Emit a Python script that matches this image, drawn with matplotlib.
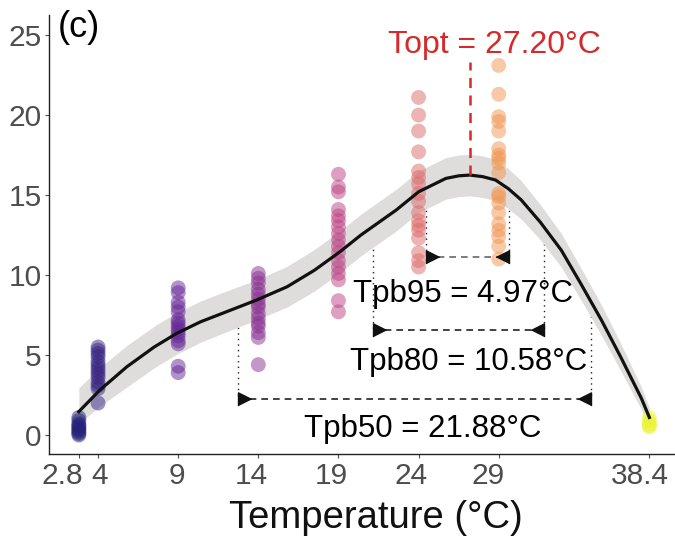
import numpy as np
import matplotlib
matplotlib.use("Agg")
import matplotlib.pyplot as plt
from matplotlib import colors
from matplotlib.transforms import ScaledTranslation

plt.rcParams['font.family'] = ['Liberation Sans', 'DejaVu Sans']

# observed points, one list per temperature
temps = [2.8, 4, 9, 14, 19, 24, 29, 38.4]
temp_labels = ['2.8', '4', '9', '14', '19', '24', '29', '38.4']
rates = [
    [1.1, 0.9, 0.7, 0.5, 0.3, 0.1, 0.0, 0.4, 0.6, 0.2],
    [5.5, 5.3, 5.1, 4.9, 4.6, 4.4, 4.2, 4.0, 3.8, 3.6, 3.3, 3.1, 2.9, 2.0],
    [9.2, 8.9, 8.3, 8.0, 7.7, 7.2, 7.0, 6.8, 6.6, 6.4, 6.2, 5.9, 5.7, 4.3, 3.9],
    [10.1, 9.8, 9.5, 9.1, 8.8, 8.5, 8.2, 8.0, 7.6, 7.3, 7.0, 6.8, 6.4, 6.1, 4.4],
    [16.3, 15.5, 15.2, 14.1, 13.7, 13.4, 13.0, 12.6, 12.2, 11.8, 11.4, 10.9,
     10.5, 10.1, 9.7, 8.4, 7.7],
    [21.1, 20.0, 19.0, 17.7, 16.5, 16.1, 15.7, 15.1, 14.6, 13.9, 13.4, 13.1,
     12.8, 12.3, 11.4, 10.9, 10.5],
    [23.1, 21.3, 19.9, 19.6, 19.0, 17.9, 17.5, 17.3, 17.0, 16.4, 15.1, 14.9,
     14.5, 13.9, 13.2, 12.8, 12.4, 11.8, 11.0],
    [1.1, 0.9, 0.7, 0.6, 0.5],
]

# fitted curve and its confidence band
fit_t = [2.8, 4.1, 5.8, 7.5, 8.9, 10.4, 12.0, 13.9, 15.8, 17.5, 19.1, 20.4,
         22.6, 24.0, 25.7, 26.5, 27.2, 28.0, 28.8, 29.6, 30.4, 31.6, 32.9,
         34.1, 35.4, 36.6, 37.9, 38.4]
fit_y = [1.46, 2.8, 4.27, 5.5, 6.35, 7.08, 7.7, 8.44, 9.27, 10.3, 11.46, 12.5,
         14.06, 15.2, 16.04, 16.2, 16.25, 16.15, 15.94, 15.4, 14.7, 13.3, 11.56,
         9.5, 7.2, 4.9, 2.3, 1.1]
fit_lo = [0.7, 1.8, 3.0, 4.2, 5.05, 5.8, 6.45, 7.2, 8.0, 9.0, 10.15, 11.2,
          12.75, 13.9, 14.74, 14.9, 14.95, 14.85, 14.64, 14.15, 13.5, 12.2, 10.5,
          8.5, 6.25, 4.05, 1.6, 0.5]
fit_hi = [2.95, 4.2, 5.6, 6.8, 7.65, 8.38, 9.0, 9.7, 10.55, 11.6, 12.76, 13.8,
          15.36, 16.5, 17.34, 17.5, 17.55, 17.45, 17.24, 16.65, 15.9, 14.4, 12.6,
          10.5, 8.15, 5.75, 3.0, 1.7]

t_opt = 27.2
r_max = 16.25
# breadth intervals
tpb_names = ['Tpb95 = 4.97°C', 'Tpb80 = 10.58°C', 'Tpb50 = 21.88°C']
tpb_left = [24.48, 21.17, 12.73]
tpb_right = [29.64, 31.83, 34.75]
tpb_frac = [0.95, 0.80, 0.50]
tpb_y = [11.15, 6.56, 2.27]
tpb_text_x = [26.8, 27.1, 24.25]
tpb_text_y = [8.33, 4.06, -0.1]
dash_col = ['#666666', '#222222', '#222222']

# shift of each x tick label in pixels (as in the original layout)
lab_shift = [-17, 2, -1, -7, -7, -8, -11, -9]

fig = plt.figure(figsize=(6.75, 5.38), dpi=100)
ax = fig.add_axes([0.073, 0.156, 0.927, 0.816])

norm = colors.Normalize(vmin=2.8, vmax=38.4)
cmap = matplotlib.colormaps['plasma']


# the printed figure has slightly muted colours, mostly in the dark blues
def muted(c):
    h, s, v = colors.rgb_to_hsv(np.array(c[:3]))
    k = 0.75 if v < 0.7 else 0.92
    return colors.hsv_to_rgb([h, s * k, v * (0.9 if v < 0.7 else 0.98)])


# dotted drop lines (behind the band)
for lft, rgt, fr, yy in zip(tpb_left, tpb_right, tpb_frac, tpb_y):
    for xx in (lft, rgt):
        ax.plot([xx, xx], [r_max * fr, yy], ls=(0, (1, 3)), color='#222222',
                lw=1.0, zorder=1)

ax.fill_between(fit_t, fit_lo, fit_hi, color='#DFDDDC', lw=0, zorder=2)

for t, vals in zip(temps, rates):
    ax.scatter([t] * len(vals), vals, s=115, color=muted(cmap(norm(t))),
               alpha=0.5, edgecolors='none', zorder=3)

ax.plot(fit_t, fit_y, color='#111111', lw=2.3, zorder=4)

# Topt marker
ax.plot([t_opt, t_opt], [r_max, 23.3], ls=(0, (4, 3)), color='#D42A2A', lw=1.8,
        zorder=5)
ax.text(28.75, 23.86, 'Topt = 27.20°C', color='#D42A2A', fontsize=23,
        ha='center', va='baseline', zorder=6)

tri_r = [(0, -1), (0, 1), (2, 0)]
tri_l = [(0, -1), (0, 1), (-2, 0)]
for name, lft, rgt, yy, tx, ty, dc in zip(tpb_names, tpb_left, tpb_right, tpb_y,
                                          tpb_text_x, tpb_text_y, dash_col):
    ax.plot([lft, rgt], [yy, yy], ls=(0, (4, 3)), color=dc, lw=1.2, zorder=5)
    ax.plot([lft], [yy], marker=tri_r, ms=19, color='#111111', zorder=6)
    ax.plot([rgt], [yy], marker=tri_l, ms=19, color='#111111', zorder=6)
    ax.text(tx, ty, name, fontsize=22.5, ha='center', va='baseline', zorder=6)

ax.text(1.5, 24.85, '(c)', fontsize=26, ha='left', va='baseline')

ax.set_xlim(0.956, 40.0)
ax.set_ylim(-1.19, 26.25)
ax.set_xticks(temps)
ax.set_xticklabels(temp_labels)
ax.set_yticks([0, 5, 10, 15, 20, 25])
ax.tick_params(labelsize=21.5, colors='#4D4D4D', labelcolor='#4D4D4D',
               length=3, width=0.8)
ax.tick_params(axis='x', pad=3)
ax.tick_params(axis='y', pad=2.5)
for lab, dx in zip(ax.get_xticklabels(), lab_shift):
    lab.set_transform(lab.get_transform() +
                      ScaledTranslation(dx / 100, 0, fig.dpi_scale_trans))
for s in ('top', 'right'):
    ax.spines[s].set_visible(False)
for s in ('left', 'bottom'):
    ax.spines[s].set_color('#222222')
    ax.spines[s].set_linewidth(1.0)

ax.set_xlabel('Temperature (°C)', fontsize=27.5, color='#111111')
ax.xaxis.set_label_coords(0.522, -0.105)

fig.savefig('out.png', dpi=100)
